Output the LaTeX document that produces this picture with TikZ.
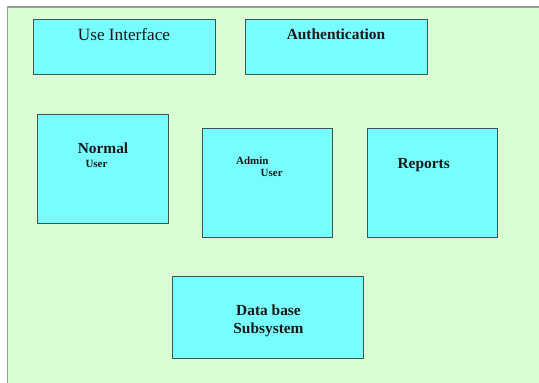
\documentclass[tikz,border=0pt]{standalone}
\usepackage{fontspec}
\setmainfont{Liberation Serif}
\definecolor{bgframe}{HTML}{D9FCD2}
\definecolor{frameline}{HTML}{9A9A9A}
\definecolor{boxfill}{HTML}{78FDFF}
\definecolor{boxline}{HTML}{3C5656}
\tikzset{
  blk/.style={draw=boxline, fill=boxfill, line width=0.8pt, rectangle, inner sep=0pt},
  lbl/.style={anchor=base, inner sep=0pt, text=black!90},
  big/.style={lbl, font=\fontsize{15.4}{18}\selectfont\bfseries},
  small/.style={lbl, font=\fontsize{11}{13}\selectfont\bfseries},
}
\begin{document}
\begin{tikzpicture}[x=1pt,y=-1pt]
\useasboundingbox (0,0) rectangle (539,383);
\fill[white] (0,0) rectangle (539,383);
\fill[bgframe] (7.5,7) rectangle (550,395);
\draw[frameline, line width=1.2pt] (7.5,395) -- (7.5,7) -- (550,7);
% boxes
\draw[blk] (33,19.5) rectangle (215,74.5) node[pos=0.5] (ui) {};
\draw[blk] (245,19.5) rectangle (427,74.5) node[pos=0.5] (auth) {};
\draw[blk] (37.5,114.7) rectangle (168,223.3) node[pos=0.5] (normal) {};
\draw[blk] (202,128.3) rectangle (332.5,237) node[pos=0.5] (admin) {};
\draw[blk] (367,128.3) rectangle (497.5,237) node[pos=0.5] (reports) {};
\draw[blk] (172,276.7) rectangle (363,358.3) node[pos=0.5] (db) {};
% labels
\node[lbl, font=\fontsize{17.2}{20}\selectfont] (tui) at (124,40.5) {Use Interface};
\node[big] (tauth) at (336,39.3) {Authentication};
\node[big] (tnormal) at (103,153.3) {Normal};
\node[small] (tnuser) at (96.5,167.3) {User};
\node[small] (tadmin) at (252.3,164) {Admin};
\node[small] (tauser) at (271.7,176.7) {User};
\node[big] (treports) at (423.7,168.3) {Reports};
\node[big] (tdb1) at (268.5,315.7) {Data base};
\node[big] (tdb2) at (268.5,333.3) {Subsystem};
\end{tikzpicture}
\end{document}
